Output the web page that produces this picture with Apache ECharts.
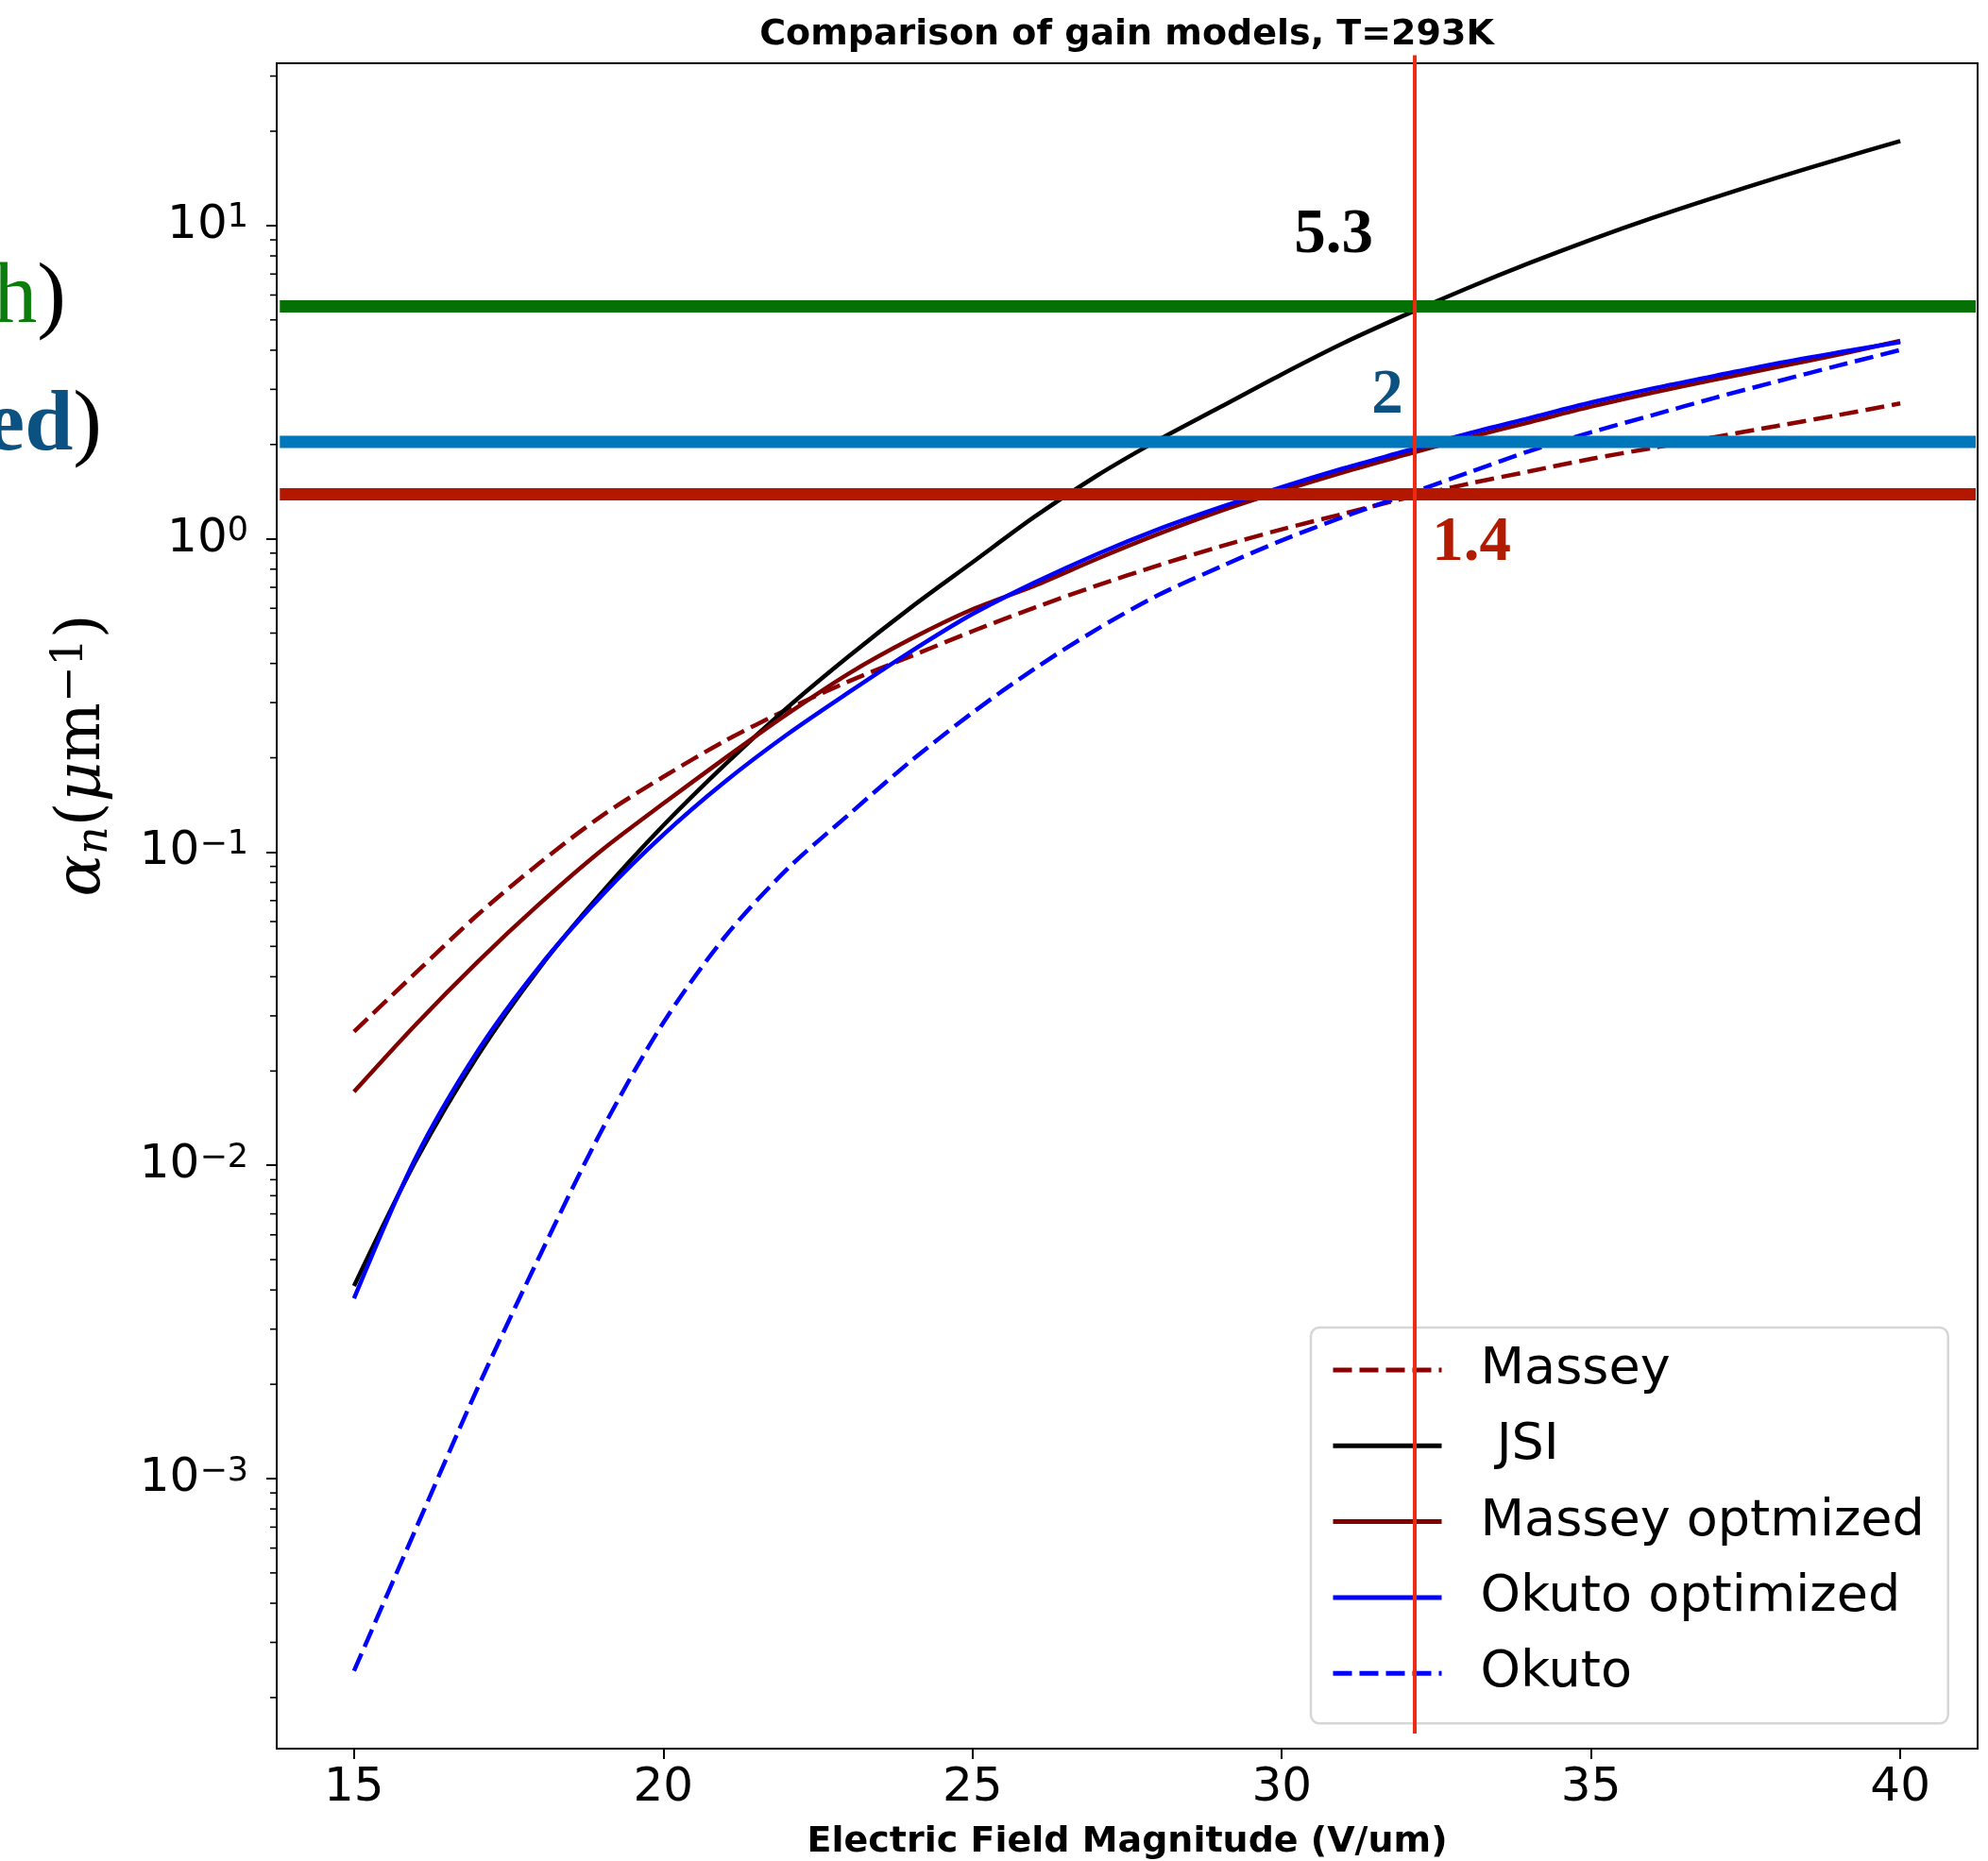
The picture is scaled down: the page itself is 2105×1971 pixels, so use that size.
<!DOCTYPE html>
<html>
<head>
<meta charset="utf-8">
<script src="https://cdn.jsdelivr.net/npm/echarts@6/dist/echarts.min.js"></script>
<style>
html,body{margin:0;padding:0;background:#fff;}
#chart{width:2105px;height:1971px;}
</style>
</head>
<body>
<div id="chart"></div>
<script>
// ---- data ----
const fieldValues = [15,16,17,18,19,20,21,22,23,24,25,26,27,28,29,30,31,32,33,34,35,36,37,38,39,40];
const massey     = [0.02673,0.04121,0.0631,0.09226,0.1303,0.1738,0.2265,0.2851,0.3508,0.4217,0.5070,0.6026,0.7079,0.8222,0.9441,1.072,1.202,1.349,1.496,1.641,1.799,1.950,2.113,2.291,2.483,2.704];
const jsi        = [0.00412,0.01035,0.0224,0.0427,0.0741,0.1216,0.1905,0.2884,0.4217,0.6026,0.8414,1.175,1.585,2.065,2.630,3.350,4.217,5.188,6.310,7.586,9.016,10.59,12.30,14.19,16.29,18.62];
const masseyOpt  = [0.01718,0.02818,0.04467,0.06839,0.1012,0.1429,0.1995,0.2754,0.3715,0.4786,0.5957,0.7079,0.8610,1.035,1.225,1.422,1.633,1.854,2.099,2.355,2.642,2.931,3.221,3.532,3.873,4.285];
const okutoOpt   = [0.00376,0.01059,0.02317,0.04315,0.07244,0.1135,0.1679,0.2371,0.3236,0.4365,0.5754,0.7244,0.8913,1.072,1.259,1.462,1.679,1.905,2.163,2.427,2.723,3.020,3.311,3.631,3.936,4.246];
const okuto      = [0.0002432,0.0006918,0.00195,0.005129,0.01288,0.02851,0.0537,0.0881,0.1318,0.195,0.2786,0.3846,0.5129,0.6607,0.8128,0.9886,1.175,1.380,1.622,1.905,2.188,2.483,2.818,3.177,3.573,4.009];
const seriesNames = ['Massey','JSI','Massey optmized','Okuto optimized','Okuto'];
const xTicks = [15,20,25,30,35,40];
const yDecadeExponents = [-3,-2,-1,0,1];
const xRange = [13.75, 41.25];
const yRange = [1.374e-4, 32.96];
const refLevels = [5.52, 2.04, 1.386];          // horizontal reference bars
const refLevelSpan = [13.8, 41.22];
const refLabels = ['5.3','2','1.4'];
const cutField = 32.15;                          // vertical marker
const cutSpan = [1.536e-4, 34.97];
const titleText = 'Comparison of gain models, T=293K';
const xName = 'Electric Field Magnitude (V/um)';

// ---- build ----
const L = v => Math.log10(v);
const yMin = L(yRange[0]), yMax = L(yRange[1]);
const minorTickVals = [];
for (let e = -4; e <= 1; e++) for (let k = 2; k <= 9; k++) {
  const v = k * Math.pow(10, e);
  if (L(v) > yMin && L(v) < yMax) minorTickVals.push(v);
}
const font = 'DejaVu Sans';
const dash = [20, 8];
const lw = 4.5;
const curveDefs = [
  {name: seriesNames[0], vals: massey,    color: '#8b0000', dashed: true},
  {name: seriesNames[1], vals: jsi,       color: '#000000', dashed: false},
  {name: seriesNames[2], vals: masseyOpt, color: '#800000', dashed: false},
  {name: seriesNames[3], vals: okutoOpt,  color: '#0000ff', dashed: false},
  {name: seriesNames[4], vals: okuto,     color: '#0000ff', dashed: true}
];
const series = curveDefs.map(c => ({
  name: c.name, type: 'line', symbol: 'none', showSymbol: false,
  smooth: 0.3, z: 2, silent: true,
  data: fieldValues.map((x, i) => [x, L(c.vals[i])]),
  itemStyle: {color: c.color},
  lineStyle: {color: c.color, width: lw, type: c.dashed ? dash : 'solid', cap: 'butt'}
}));
const refColors = ['#037103', '#0077bb', '#b31700'];
refLevels.forEach((v, i) => series.push({
  name: 'ref' + i, type: 'line', symbol: 'none', z: 3, silent: true,
  data: [[refLevelSpan[0], L(v)], [refLevelSpan[1], L(v)]],
  lineStyle: {color: refColors[i], width: 13, cap: 'butt'}
}));
series.push({
  name: 'cut', type: 'line', symbol: 'none', z: 4, silent: true, clip: false,
  data: [[cutField, L(cutSpan[0])], [cutField, L(cutSpan[1])]],
  lineStyle: {color: '#ef2a14', width: 4, cap: 'butt'}
});
series.push({
  name: 'minorTicks', type: 'custom', coordinateSystem: 'cartesian2d', clip: false, silent: true, z: 5,
  data: minorTickVals.map(v => [xRange[0], L(v)]),
  renderItem: (params, api) => {
    const p = api.coord([api.value(0), api.value(1)]);
    return {type: 'line', shape: {x1: p[0] - 7, y1: p[1], x2: p[0], y2: p[1]},
            style: {stroke: '#000', lineWidth: 1.6}};
  }
});

const chart = echarts.init(document.getElementById('chart'), null, {renderer: 'canvas'});
chart.setOption({
  animation: false,
  backgroundColor: '#ffffff',
  textStyle: {fontFamily: font},
  title: {
    text: titleText, left: 1193, top: 18, textAlign: 'center', padding: 0,
    textStyle: {fontFamily: font, fontSize: 38, fontWeight: 'bold', color: '#000', lineHeight: 38}
  },
  grid: {left: 293, right: 11, top: 67, bottom: 119, show: true, borderColor: '#000', borderWidth: 2,
         containLabel: false, outerBoundsMode: 'none'},
  legend: {
    orient: 'vertical', left: 1388, top: 1406, data: seriesNames, selectedMode: false,
    itemWidth: 115, itemHeight: 14, itemGap: 20.3,
    padding: [15, 25, 23, 21],
    backgroundColor: 'rgba(255,255,255,0.85)', borderColor: '#d6d6d6', borderWidth: 2.5, borderRadius: 9,
    itemStyle: {opacity: 0, borderWidth: 0},
    lineStyle: {width: 5},
    formatter: n => (n === 'JSI' ? ' JSI' : n),
    textStyle: {fontFamily: font, fontSize: 54, color: '#000', lineHeight: 60, padding: [0, 0, 0, 36]}
  },
  xAxis: {
    type: 'value', min: xRange[0], max: xRange[1],
    axisLine: {show: true, onZero: false, lineStyle: {color: '#000', width: 2}},
    axisTick: {show: true, customValues: xTicks, length: 11, lineStyle: {color: '#000', width: 2}},
    axisLabel: {show: true, customValues: xTicks, margin: 17, fontFamily: font, fontSize: 50, color: '#000', lineHeight: 50,
      formatter: v => (xTicks.indexOf(v) >= 0 ? String(v) : '')},
    splitLine: {show: false},
    name: xName, nameLocation: 'middle', nameGap: 80,
    nameTextStyle: {fontFamily: font, fontSize: 38, fontWeight: 'bold', color: '#000', lineHeight: 38}
  },
  yAxis: {
    type: 'value', min: yMin, max: yMax,
    axisLine: {show: true, onZero: false, lineStyle: {color: '#000', width: 2}},
    axisTick: {show: true, customValues: yDecadeExponents, length: 11, lineStyle: {color: '#000', width: 2}},
    axisLabel: {show: true, customValues: yDecadeExponents, margin: 30,
      formatter: v => {
        if (Math.abs(v - Math.round(v)) > 1e-6) return '';
        const e = Math.round(v);
        return '{b|10}{s|' + (e < 0 ? '\u2212' : '') + Math.abs(e) + '}';
      },
      rich: {
        b: {fontFamily: font, fontSize: 50, color: '#000', lineHeight: 50},
        s: {fontFamily: font, fontSize: 35, color: '#000', lineHeight: 26, verticalAlign: 'top'}
      }
    },
    splitLine: {show: false}
  },
  graphic: [
    {type: 'text', x: 88, y: 800, rotation: Math.PI / 2, silent: true,
     style: {text: '{a|\u03b1}{sb|n}{r|(}{a|\u03bc}{r|m}{sp|\u22121}{r|)}', align: 'center', verticalAlign: 'middle',
       rich: {
         a:  {fontFamily: 'DejaVu Serif', fontStyle: 'italic', fontSize: 66, lineHeight: 72, fill: '#000'},
         r:  {fontFamily: 'DejaVu Serif', fontSize: 66, lineHeight: 72, fill: '#000'},
         sb: {fontFamily: 'DejaVu Serif', fontStyle: 'italic', fontSize: 46, lineHeight: 18, verticalAlign: 'bottom', fill: '#000'},
         sp: {fontFamily: 'DejaVu Serif', fontSize: 46, lineHeight: 50, verticalAlign: 'top', fill: '#000'}
       }}},
    {type: 'text', x: 70, y: 317, silent: true,
     style: {text: '{g|h}{k|)}', align: 'right', verticalAlign: 'middle',
       rich: {g: {fontFamily: 'Liberation Serif', fontSize: 92, lineHeight: 110, fill: '#0a7d0a'},
              k: {fontFamily: 'Liberation Serif', fontSize: 92, lineHeight: 110, fill: '#000'}}}},
    {type: 'text', x: 108, y: 452, silent: true,
     style: {text: '{b|ed}{k|)}', align: 'right', verticalAlign: 'middle',
       rich: {b: {fontFamily: 'Liberation Serif', fontWeight: 'bold', fontSize: 92, lineHeight: 110, fill: '#0b5282'},
              k: {fontFamily: 'Liberation Serif', fontSize: 92, lineHeight: 110, fill: '#000'}}}},
    {type: 'text', x: 1412, y: 250, silent: true, z: 10,
     style: {text: refLabels[0], align: 'center', verticalAlign: 'middle', fontFamily: 'Liberation Serif', fontWeight: 'bold', fontSize: 67, fill: '#000'}},
    {type: 'text', x: 1469, y: 420, silent: true, z: 10,
     style: {text: refLabels[1], align: 'center', verticalAlign: 'middle', fontFamily: 'Liberation Serif', fontWeight: 'bold', fontSize: 67, fill: '#0b5282'}},
    {type: 'text', x: 1558, y: 576, silent: true, z: 10,
     style: {text: refLabels[2], align: 'center', verticalAlign: 'middle', fontFamily: 'Liberation Serif', fontWeight: 'bold', fontSize: 67, fill: '#b31b00'}}
  ],
  series: series
});
</script>
</body>
</html>
